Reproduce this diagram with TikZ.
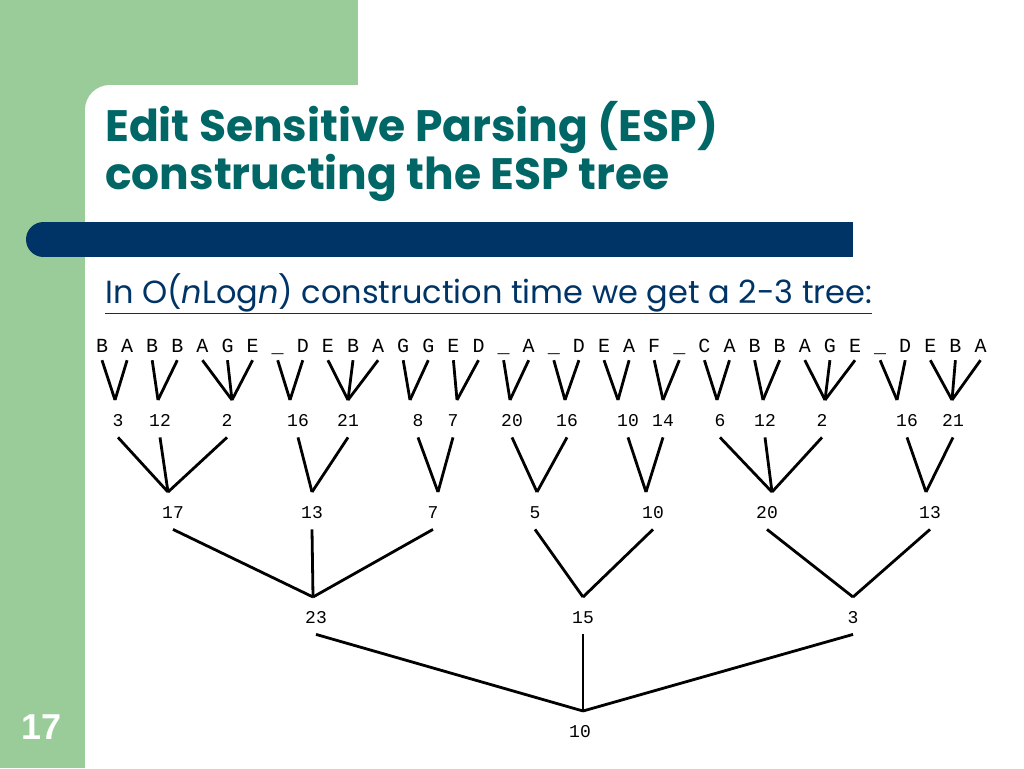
\documentclass[tikz,border=0pt]{standalone}
\usepackage{fontspec}
\usepackage{tikz}
\newfontfamily\headfont{Poppins}
\newfontfamily\treefont{Liberation Mono}
\newfontfamily\pagefont{Liberation Sans}
\definecolor{slidegreen}{RGB}{153,204,153}
\definecolor{slidenavy}{RGB}{0,51,102}
\definecolor{slideteal}{RGB}{0,102,102}
\tikzset{
	letter/.style={font=\treefont\fontsize{20}{20}\selectfont, inner sep=0pt, text height=14pt, text depth=8pt, anchor=base},
	num/.style={font=\treefont\fontsize{18}{18}\selectfont, inner sep=0pt, text height=26pt, text depth=11pt, anchor=north},
	branch/.style={line width=2.8pt},
	title/.style={font=\headfont\bfseries\fontsize{44}{48}\selectfont, text=slideteal, anchor=base west, inner sep=0pt},
	intro/.style={font=\headfont\fontsize{32}{36}\selectfont, text=slidenavy, anchor=base west, inner sep=0pt},
	pageno/.style={font=\pagefont\bfseries\fontsize{36}{36}\selectfont, text=white, inner sep=0pt}
}
\newcommand{\Letter}[2]{
	\node[letter] (c#1) at (\fpeval{76.9+25.1*#1},352) {#2};
}
\newcommand{\ForkTwo}[7]{
	\coordinate (#1v) at (#3,#4);
	\node[num] (#1) at (#5,#4) {#2};
	\draw[branch] (#6.south) -- (#1v);
	\draw[branch] (#7.south) -- (#1v);
}
\newcommand{\ForkThree}[8]{
	\coordinate (#1v) at (#3,#4);
	\node[num] (#1) at (#5,#4) {#2};
	\draw[branch] (#6.south) -- (#1v);
	\draw[branch] (#7.south) -- (#1v);
	\draw[branch] (#8.south) -- (#1v);
}
\begin{document}
\begin{tikzpicture}[x=1pt, y=-1pt]
	\useasboundingbox (0,0) rectangle (1024,768);
	\fill[slidegreen] (0,0) rectangle (358,85);
	\fill[slidegreen] (0,0) rectangle (85,768);
	\fill[slidegreen] (85,85) rectangle (110,110);
	\fill[white] (110,110) circle[radius=25];
	\fill[slidenavy] (43.5,239.5) circle[radius=17.5];
	\fill[slidenavy] (43.5,222) rectangle (853,257);
	\node[title] (title) at (105,141) {Edit Sensitive Parsing (ESP)};
	\node[title] (title2) at (105,189) {constructing the ESP tree};
	\node[intro] (intro) at (105,303) {\underline{In O(\textit{n}Log\textit{n}) construction time we get a 2-3 tree:}};
	\node[pageno] (pageno) at (42,727) {17};
	\Letter{1}{B}\Letter{2}{A}\Letter{3}{B}\Letter{4}{B}\Letter{5}{A}\Letter{6}{G}
	\Letter{7}{E}\Letter{8}{\_}\Letter{9}{D}\Letter{10}{E}\Letter{11}{B}\Letter{12}{A}
	\Letter{13}{G}\Letter{14}{G}\Letter{15}{E}\Letter{16}{D}\Letter{17}{\_}\Letter{18}{A}
	\Letter{19}{\_}\Letter{20}{D}\Letter{21}{E}\Letter{22}{A}\Letter{23}{F}\Letter{24}{\_}
	\Letter{25}{C}\Letter{26}{A}\Letter{27}{B}\Letter{28}{B}\Letter{29}{A}\Letter{30}{G}
	\Letter{31}{E}\Letter{32}{\_}\Letter{33}{D}\Letter{34}{E}\Letter{35}{B}\Letter{36}{A}
	\ForkTwo{g1}{3}{115}{400}{118}{c1}{c2}
	\ForkTwo{g2}{12}{158}{400}{160}{c3}{c4}
	\ForkThree{g3}{2}{232}{400}{227}{c5}{c6}{c7}
	\ForkTwo{g4}{16}{290}{400}{298}{c8}{c9}
	\ForkThree{g5}{21}{348}{400}{348}{c10}{c11}{c12}
	\ForkTwo{g6}{8}{410}{400}{418}{c13}{c14}
	\ForkTwo{g7}{7}{457}{400}{453}{c15}{c16}
	\ForkTwo{g8}{20}{510}{400}{512}{c17}{c18}
	\ForkTwo{g9}{16}{565}{400}{567}{c19}{c20}
	\ForkTwo{g10}{10}{618}{400}{628}{c21}{c22}
	\ForkTwo{g11}{14}{663}{400}{663}{c23}{c24}
	\ForkTwo{g12}{6}{717}{400}{720}{c25}{c26}
	\ForkTwo{g13}{12}{763}{400}{765}{c27}{c28}
	\ForkThree{g14}{2}{825}{400}{822}{c29}{c30}{c31}
	\ForkTwo{g15}{16}{897}{400}{907}{c32}{c33}
	\ForkThree{g16}{21}{952}{400}{953}{c34}{c35}{c36}
	\ForkThree{h1}{17}{168}{492}{173}{g1}{g2}{g3}
	\ForkTwo{h2}{13}{312}{492}{312}{g4}{g5}
	\ForkTwo{h3}{7}{438}{492}{433}{g6}{g7}
	\ForkTwo{h4}{5}{537}{492}{535}{g8}{g9}
	\ForkTwo{h5}{10}{646}{492}{653}{g10}{g11}
	\ForkThree{h6}{20}{772}{492}{767}{g12}{g13}{g14}
	\ForkTwo{h7}{13}{926}{492}{930}{g15}{g16}
	\ForkThree{k1}{23}{313}{597}{316}{h1}{h2}{h3}
	\ForkTwo{k2}{15}{583}{597}{583}{h4}{h5}
	\ForkTwo{k3}{3}{853}{597}{853}{h6}{h7}
	\ForkThree{r}{10}{583}{711}{580}{k1}{k2}{k3}
\end{tikzpicture}
\end{document}
